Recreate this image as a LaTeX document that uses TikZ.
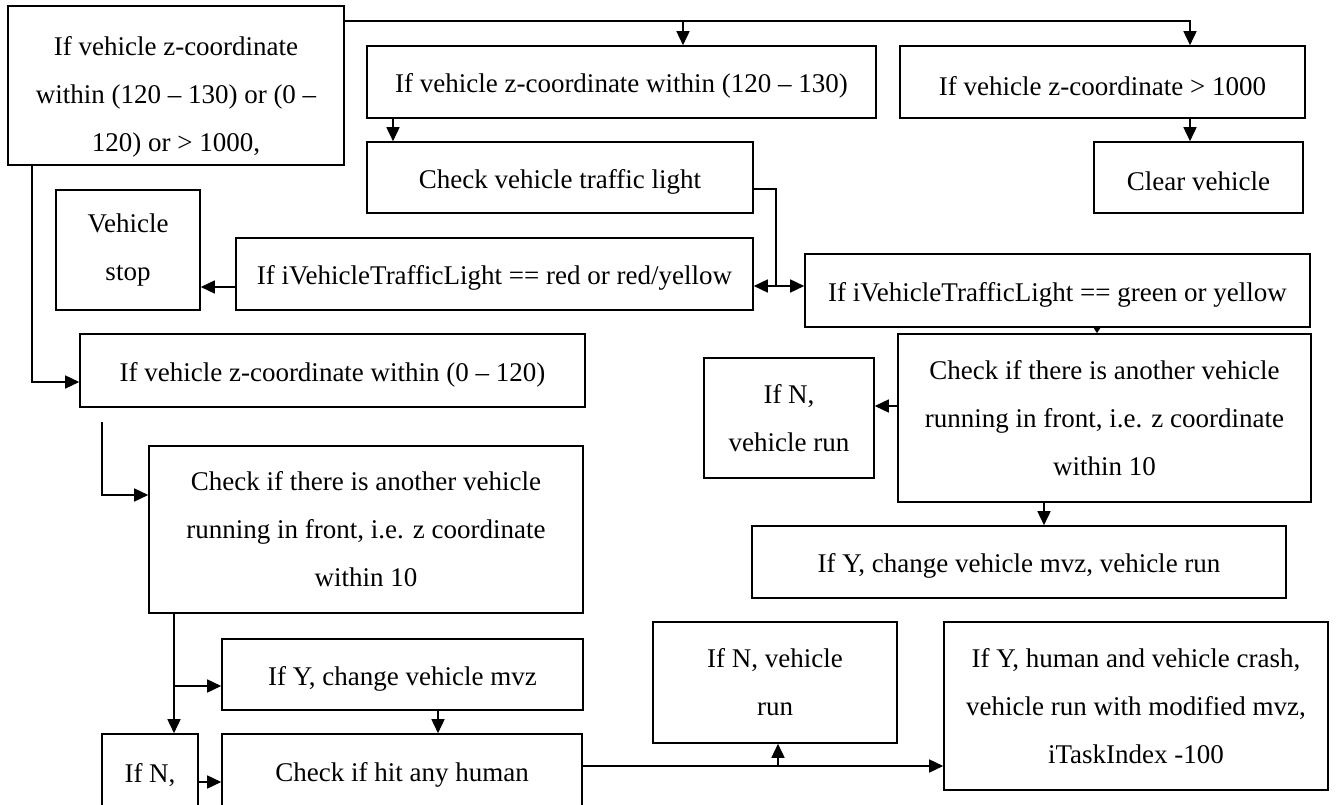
\documentclass[tikz,border=0pt]{standalone}
\usepackage{fontspec}
\setmainfont{Liberation Serif}
\usetikzlibrary{arrows.meta}
\tikzset{
  box/.style={draw, line width=1.6pt, inner sep=0pt, align=center,
    font=\fontsize{27}{48}\selectfont,
    execute at begin node={\rule{0pt}{27pt}}},
  arr/.style={line width=1.6pt, -{Triangle[length=14pt,width=13pt]}},
  ln/.style={line width=1.6pt},
  smallarr/.style={line width=1.6pt, -{Triangle[length=5pt,width=6pt]}}
}
\begin{document}
\begin{tikzpicture}[x=1pt,y=-1pt]
\useasboundingbox (0,0) rectangle (1336,805);
\clip (0,0) rectangle (1336,805);
\fill[white] (0,0) rectangle (1336,805);
% boxes
\node[box, minimum width=336pt, minimum height=159pt] (A) at (176,85.5) {\rule{0pt}{42pt}If vehicle z-coordinate\\within (120 – 130) or (0 –\\120) or > 1000,};
\node[box, minimum width=509pt, minimum height=72pt] (B) at (621.5,82) {If vehicle z-coordinate within (120 – 130)};
\node[box, minimum width=405pt, minimum height=72pt] (C) at (1102.5,82) {If vehicle z-coordinate > 1000};
\node[box, minimum width=386pt, minimum height=71pt] (D) at (560,177.5) {Check vehicle traffic light};
\node[box, minimum width=209pt, minimum height=71pt] (E) at (1198.5,177.5) {Clear vehicle};
\node[box, minimum width=144pt, minimum height=120pt] (S) at (128,250) {Vehicle\\stop};
\node[box, minimum width=517pt, minimum height=72pt] (F) at (494.5,274) {If iVehicleTrafficLight == red or red/yellow};
\node[box, minimum width=505pt, minimum height=73pt] (G) at (1057.5,290.5) {If iVehicleTrafficLight == green or yellow};
\node[box, minimum width=505pt, minimum height=73pt] (H) at (332.5,370.5) {If vehicle z-coordinate within (0 – 120)};
\node[box, minimum width=413pt, minimum height=168pt] (N) at (1104.5,418) {Check if there is another vehicle\\running in front, i.e. z coordinate\\within 10};
\node[box, minimum width=170pt, minimum height=120pt] (O) at (789,418) {If N,\\vehicle run};
\node[box, minimum width=434pt, minimum height=167pt] (I) at (366,529.5) {Check if there is another vehicle\\running in front, i.e. z coordinate\\within 10};
\node[box, minimum width=534pt, minimum height=72pt] (P) at (1019,562) {If Y, change vehicle mvz, vehicle run};
\node[box, minimum width=361pt, minimum height=71pt] (J) at (402.5,674.5) {If Y, change vehicle mvz};
\node[box, minimum width=244pt, minimum height=121pt] (L) at (775,682.5) {If N, vehicle\\run};
\node[box, minimum width=384pt, minimum height=168pt] (M) at (1136,706) {If Y, human and vehicle crash,\\vehicle run with modified mvz,\\iTaskIndex -100};
\node[box, minimum width=96pt, minimum height=74pt] (IfN) at (150,771) {If N,};
\node[box, minimum width=360pt, minimum height=74pt] (K) at (402,771) {Check if hit any human};
% connectors
\coordinate (t) at (344,21);
\draw[arr] (t) -| (683,0 |- B.north);
\draw[arr] (t) -| (1190,0 |- C.north);
\draw[arr] (393,0 |- B.south) -- (393,0 |- D.north);
\draw[arr] (1190,0 |- C.south) -- (1190,0 |- E.north);
\coordinate (j) at (776,286);
\draw[ln] (D.east |- 0,189) -| (j);
\draw[arr] (j) -- (j -| F.east);
\draw[arr] (j) -- (j -| G.west);
\draw[arr] (F.west |- 0,287) -- (S.east |- 0,287);
\draw[arr] (32,0 |- A.south) |- (H.west |- 0,382);
\coordinate (f) at (102,422);
\draw[arr] (f) |- (I.west |- 0,495);
\draw[arr] (174,0 |- I.south) -- (174,0 |- IfN.north);
\draw[arr] (174,686) -- (J.west |- 0,686);
\draw[arr] (438,0 |- J.south) -- (438,0 |- K.north);
\draw[arr] (IfN.east |- 0,782) -- (K.west |- 0,782);
\draw[arr] (K.east |- 0,766) -- (M.west |- 0,766);
\coordinate (kb) at (778,766);
\draw[arr] (kb) -- (778,0 |- L.south);
\draw[smallarr] (1097,0 |- G.south) -- (1097,0 |- N.north);
\draw[arr] (N.west |- 0,406) -- (O.east |- 0,406);
\draw[arr] (1044,0 |- N.south) -- (1044,0 |- P.north);
\end{tikzpicture}
\end{document}
